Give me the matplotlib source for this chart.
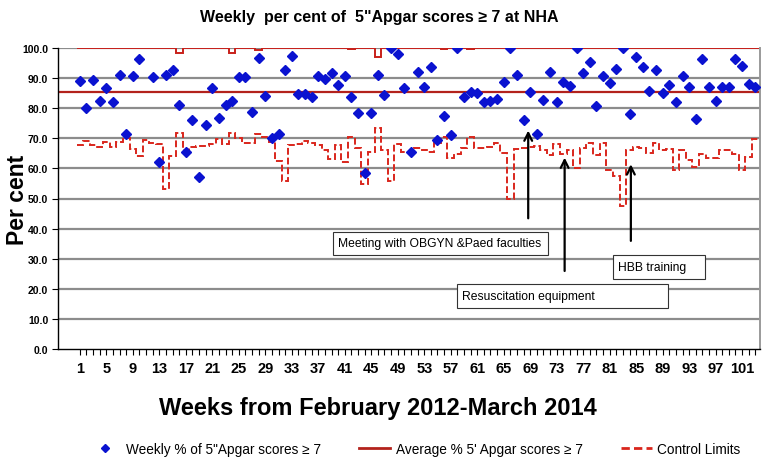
import numpy as np
import matplotlib.pyplot as plt
from matplotlib.patches import Rectangle

plt.rcParams['font.family'] = ['Liberation Sans', 'DejaVu Sans']

# weekly % of 5' Apgar >= 7, weeks 1..103 (week 11 has no point)
weekly_pct = [89.0, 80.0, 89.4, 82.5, 86.6, 82.1, 91.0, 71.5, 90.6, 96.2,
              np.nan, 90.5, 62.2, 91.0, 92.7, 81.1, 65.5, 76.0, 57.3, 74.3,
              86.6, 76.6, 81.1, 82.5, 90.2, 90.5, 78.9, 96.6, 83.9, 70.0,
              71.5, 92.7, 97.5, 84.7, 84.7, 83.6, 90.8, 89.7, 91.6, 87.8,
              90.6, 83.6, 78.3, 58.4, 78.3, 91.0, 84.4, 100.0, 98.0, 86.7,
              65.5, 92.0, 86.9, 93.6, 69.6, 77.4, 71.0, 100.0, 83.6, 85.5,
              85.0, 81.9, 82.5, 83.2, 88.6, 100.0, 91.0, 76.1, 85.5, 71.3,
              82.8, 92.0, 81.9, 88.8, 87.5, 100.0, 91.7, 95.2, 80.6, 90.6,
              88.3, 93.0, 100.0, 78.1, 96.9, 93.7, 85.6, 92.8, 85.0, 87.6,
              82.2, 90.8, 86.9, 76.4, 96.3, 86.9, 82.5, 86.9, 86.9, 96.4,
              93.9, 88.0, 86.9]

lower_limit = [67.8, 69.1, 67.8, 67.0, 68.7, 67.0, 68.9, 70.0, 66.5, 64.0,
               69.5, 68.4, 68.0, 53.3, 64.0, 71.9, 66.2, 67.0, 67.6, 67.6,
               68.0, 69.8, 68.0, 71.9, 70.0, 68.4, 68.4, 71.4, 70.5, 68.9,
               62.3, 55.8, 67.8, 68.1, 69.2, 68.4, 67.8, 66.0, 63.1, 67.8,
               62.1, 70.5, 66.7, 54.7, 65.6, 73.3, 66.2, 55.8, 68.1, 65.6,
               65.6, 66.7, 66.0, 65.6, 68.4, 70.3, 63.4, 64.9, 66.7, 70.5,
               66.7, 66.7, 67.0, 68.4, 65.1, 49.8, 66.4, 66.7, 67.0, 67.5,
               66.0, 64.5, 68.1, 64.9, 66.0, 60.2, 66.7, 68.4, 64.5, 68.4,
               59.4, 57.4, 47.5, 66.2, 67.0, 66.7, 65.1, 68.4, 66.2, 66.5,
               59.4, 66.0, 62.9, 60.3, 64.8, 63.4, 63.4, 66.0, 66.0, 64.9,
               59.4, 63.8, 69.7]

# upper limit is capped at 100 except for a few weeks
upper_limit = [100.0] * 103
upper_dips = {16: 98.2, 24: 98.3, 28: 99.4, 42: 99.6, 46: 97.1, 56: 99.6, 60: 99.6}
for wk, v in upper_dips.items():
    upper_limit[wk - 1] = v

average_pct = 85.3

weeks = np.arange(1, 104)
tick_weeks = list(range(1, 102, 4))

# label, arrow week, arrow head, arrow tail, box (x0, x1, y0, y1)
events = [
    ("Meeting with OBGYN &Paed faculties", 68.7, 73.5, 42.5, (39.2, 71.7, 31.2, 38.9)),
    ("Resuscitation equipment", 74.2, 64.5, 25.0, (57.9, 89.8, 13.6, 21.6)),
    ("HBB training", 84.2, 62.3, 35.0, (81.5, 95.4, 23.3, 31.2)),
]

fig = plt.figure(figsize=(7.67, 4.64), dpi=100)
ax = fig.add_axes([58 / 767, 1 - 350 / 464, 702 / 767, 301 / 464])

for v in range(10, 101, 10):
    ax.axhline(v, color='#8c8c8c', lw=1.6, zorder=1)

edges = np.arange(0.5, 104.5, 1.0)
ax.stairs(lower_limit, edges, baseline=None, color='#d9261c', lw=1.4,
          linestyle=(0, (3.5, 1.5)), zorder=2)
ax.stairs(upper_limit, edges, baseline=None, color='#c8201a', lw=1.4, zorder=2)
ax.axhline(average_pct, color='#b3221c', lw=1.6, zorder=2)

ax.plot(weeks, weekly_pct, linestyle='none', marker='D', ms=5.2,
        color='#0a12d0', zorder=3)

for label, xw, ytop, ybot, (x0, x1, y0, y1) in events:
    ax.annotate('', xy=(xw, ytop), xytext=(xw, ybot),
                arrowprops=dict(arrowstyle='->', color='black', lw=1.6,
                                mutation_scale=14), zorder=4)
    ax.add_patch(Rectangle((x0, y0), x1 - x0, y1 - y0, fc='white', ec='#333333',
                           lw=0.8, zorder=5))
    ax.text(x0 + 0.8, (y0 + y1) / 2, label, ha='left', va='center', fontsize=8.7,
            zorder=6)

ax.set_xlim(-2.3, 103.7)
ax.set_ylim(0, 100)
ax.set_xticks(weeks, minor=True)
ax.set_xticks(tick_weeks)
ax.set_xticklabels([str(w) for w in tick_weeks], fontsize=10.5, fontweight='bold')
ax.tick_params(axis='x', which='both', length=4, width=0.8, direction='out', pad=5)
ax.set_yticks(range(0, 101, 10))
ax.set_yticklabels([f"{v:.1f}" for v in range(0, 101, 10)], fontsize=7.5,
                   fontweight='bold')
ax.tick_params(axis='y', length=4, width=0.8, direction='out', pad=3)

ax.spines['top'].set_visible(False)
ax.spines['right'].set_color('#9a9a9a')
ax.spines['right'].set_linewidth(1.4)
ax.spines['left'].set_linewidth(1.0)
ax.spines['bottom'].set_linewidth(1.0)

ax.set_ylabel('Per cent', fontsize=16.5, fontweight='bold')
ax.yaxis.set_label_coords(-0.042, 0.5)
ax.set_xlabel('Weeks from February 2012-March 2014', fontsize=17, fontweight='bold')
ax.xaxis.set_label_coords(0.456, -0.155)
fig.text(0.495, 0.962, 'Weekly  per cent of  5"Apgar scores \u2265 7 at NHA',
         ha='center', va='center', fontsize=11.5, fontweight='bold')

handles = [
    plt.Line2D([], [], linestyle='none', marker='D', ms=4.5, color='#0a12d0'),
    plt.Line2D([], [], color='#b3221c', lw=2),
    plt.Line2D([], [], color='#d9261c', lw=2, linestyle=(0, (3, 1.5))),
]
labels = ['Weekly % of 5"Apgar scores \u2265 7', "Average % 5' Apgar scores \u2265 7",
          'Control Limits']
fig.legend(handles, labels, loc='center', bbox_to_anchor=(0.541, 0.030), ncol=3,
           frameon=False, fontsize=9.8, handlelength=2.3, columnspacing=2.8,
           handletextpad=0.4)

fig.savefig('out.png', dpi=100)
